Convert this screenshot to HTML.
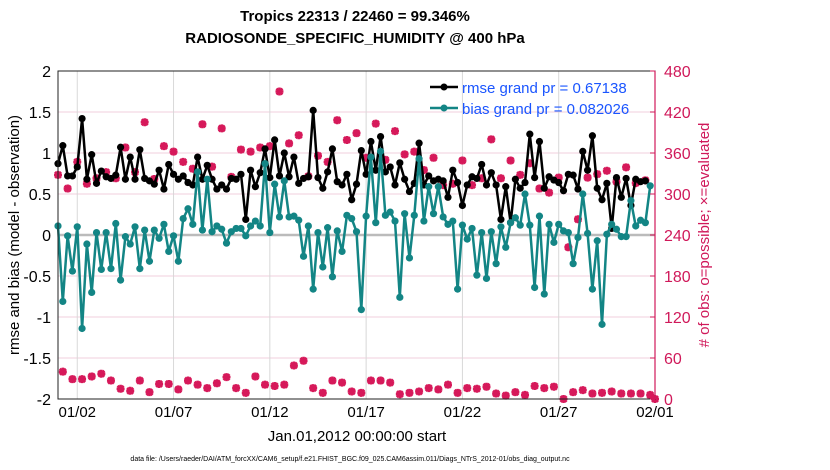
<!DOCTYPE html>
<html><head><meta charset="utf-8"><style>
body{margin:0;background:#fff;}
svg{display:block;font-family:"Liberation Sans",sans-serif;}
</style></head><body>
<svg id="chart" width="830" height="470" viewBox="0 0 830 470">
<text x="355" y="21" text-anchor="middle" font-size="15" font-weight="bold">Tropics 22313 / 22460 = 99.346%</text>
<text x="355" y="43" text-anchor="middle" font-size="15" font-weight="bold">RADIOSONDE_SPECIFIC_HUMIDITY @ 400 hPa</text>
<g id="grid"></g>
<g id="marks"></g>
<rect x="58" y="71" width="597" height="328" fill="none" stroke="#222" stroke-width="1"/>
<line x1="655" y1="71" x2="655" y2="399" stroke="#d0195a" stroke-width="1.2"/>
<g id="axes"></g>
<text transform="translate(19,235) rotate(-90)" text-anchor="middle" font-size="15">rmse and bias (model - observation)</text>
<text transform="translate(709,235) rotate(-90)" text-anchor="middle" font-size="15" fill="#d0195a"># of obs: o=possible; ×=evaluated</text>
<text x="357" y="441" text-anchor="middle" font-size="15">Jan.01,2012 00:00:00 start</text>
<text x="350" y="461" text-anchor="middle" font-size="7">data file: /Users/raeder/DAI/ATM_forcXX/CAM6_setup/f.e21.FHIST_BGC.f09_025.CAM6assim.011/Diags_NTrS_2012-01/obs_diag_output.nc</text>
<g>
<line x1="430" y1="87" x2="458" y2="87" stroke="#000" stroke-width="2.5"/>
<circle cx="444" cy="87" r="3.5" fill="#000"/>
<text x="462" y="93" font-size="15" fill="#1a55ff">rmse grand pr = 0.67138</text>
<line x1="430" y1="108" x2="458" y2="108" stroke="#138585" stroke-width="2.5"/>
<circle cx="444" cy="108" r="3.5" fill="#138585"/>
<text x="462" y="114" font-size="15" fill="#1a55ff">bias grand pr = 0.082026</text>
</g>
</svg>
<script>
const rmse = [0.87,1.09,0.72,0.72,0.83,1.42,0.68,0.98,0.63,0.78,0.71,0.69,0.73,1.07,0.68,0.95,0.68,1.04,0.69,0.66,0.62,0.79,0.56,0.86,0.74,0.68,0.72,0.64,0.61,0.95,0.68,0.85,0.68,0.56,0.61,0.56,0.69,0.68,0.74,0.19,0.79,
0.59,0.76,1.05,0.70,1.16,0.72,1.00,0.71,0.95,0.63,0.69,0.71,1.52,0.70,0.57,0.77,1.05,0.65,0.61,0.74,0.43,0.62,1.03,0.74,1.14,0.79,1.20,0.77,0.83,0.61,0.88,0.68,0.53,0.63,1.12,0.61,0.72,0.66,0.68,0.66,0.46,
0.79,0.64,0.36,0.61,0.71,0.69,0.86,0.61,0.76,0.61,0.19,0.59,0.15,0.68,0.57,0.64,1.23,0.70,1.14,0.57,0.71,0.67,0.64,0.54,0.74,0.73,0.56,1.02,0.79,1.21,0.57,0.43,0.63,0.08,0.70,0.46,0.69,0.36,0.68,0.65,0.66];
const bias = [0.11,-0.81,-0.01,-0.44,0.10,-1.14,-0.11,-0.70,0.03,-0.42,0.03,-0.41,0.14,-0.55,-0.02,-0.11,0.10,-0.41,0.06,-0.32,0.06,-0.04,0.13,-0.20,-0.01,-0.32,0.20,0.32,0.13,0.77,0.06,0.68,0.04,0.11,0.07,-0.10,0.04,0.08,0.08,-0.01,0.11,
0.17,0.11,0.87,0.03,0.62,0.22,0.66,0.22,0.23,0.18,-0.26,0.11,-0.66,0.03,-0.39,0.09,-0.51,0.05,-0.20,0.24,0.20,0.04,-0.91,0.23,0.95,0.15,1.02,0.24,0.28,0.17,-0.76,0.26,-0.28,0.24,0.93,0.17,0.59,0.26,0.59,0.22,0.13,0.17,-0.66,0.12,-0.05,
0.08,-0.49,0.03,-0.53,0.04,-0.35,0.10,-0.15,0.15,0.21,0.12,0.50,0.12,-0.64,0.23,-0.72,0.13,-0.09,0.13,0.05,0.03,-0.35,-0.03,0.50,0.02,-0.66,-0.07,-1.09,0.01,0.13,0.07,-0.02,-0.02,0.42,0.11,0.18,0.15,0.60];
const obsCount = [328,40,308,29,347,29,315,33,323,37,332,27,323,15,368,12,332,27,405,10,322,22,370,22,362,14,347,27,337,21,402,16,340,23,396,32,325,16,365,9,362,33,368,21,370,19,450,21,374,49,386,56,326,16,356,9,347,27,408,24,379,11,389,9,353,27,403,27,350,24,392,7,358,9,362,11,335,16,353,14,313,21,315,9,349,16,313,15,323,18,380,8,323,5,349,10,328,6,345,19,308,16,302,18,324,0,222,10,263,13,324,8,329,9,334,11,318,8,339,8,316,8,320,6,0];
const leftTicks = [-2,-1.5,-1,-0.5,0,0.5,1,1.5,2];
const rightTicks = [0,60,120,180,240,300,360,420,480];
const xTickDays = [1,6,11,16,21,26,31];
const xTickLabels = ["01/02","01/07","01/12","01/17","01/22","01/27","02/01"];
const stepDays = 0.25;

const NS="http://www.w3.org/2000/svg";
const X0=58,X1=655,Y0=399,Y1=71;
const xs = d => X0 + d/31*(X1-X0);
const yl = v => Y0 - (v+2)/4*(Y0-Y1);
const yr = v => Y0 - v/480*(Y0-Y1);
function mk(tag, attrs, parent){const e=document.createElementNS(NS,tag);for(const k in attrs)e.setAttribute(k,attrs[k]);parent.appendChild(e);return e;}
const grid=document.getElementById('grid'), marks=document.getElementById('marks'), axes=document.getElementById('axes');

leftTicks.forEach(t=>{
  const y=yl(t);
  if(t>-2&&t<2){const g=mk('line',{x1:X0,x2:X1,y1:y,y2:y,stroke:t===0?'#bbbbbb':'#f0cfdc','stroke-width':t===0?2.5:1},grid);
  
  }
  const tx=mk('text',{x:51,y:y+6,'text-anchor':'end','font-size':16},axes);tx.textContent=String(t);
  
  
});
rightTicks.forEach(t=>{
  const y=yr(t);
  const tk=mk('line',{x1:X1-5,x2:X1,y1:y,y2:y,stroke:'#d0195a'},axes);
  
  
  const tx=mk('text',{x:664,y:y+6,'font-size':16,fill:'#d0195a'},axes);tx.textContent=String(t);
  
  
});
xTickDays.forEach((d,i)=>{
  const x=xs(d);
  if(d<31){const g=mk('line',{x1:x,x2:x,y1:Y1,y2:Y0,stroke:'#d8d8d8','stroke-width':1},grid);
  
  }
  const tx=mk('text',{x:x,y:417,'text-anchor':'middle','font-size':15},axes);tx.textContent=xTickLabels[i];
  
  
});

// obs counts
obsCount.forEach((c,i)=>{
  const x=xs(i*stepDays), y=yr(c), s=4;
  const g=mk('path',{d:`M${x-s},${y}H${x+s}M${x},${y-s}V${y+s}M${x-3},${y-3}L${x+3},${y+3}M${x-3},${y+3}L${x+3},${y-3}`,stroke:'#d6195a','stroke-width':2.6,fill:'none'},marks);
  
  
});
function series(vals,color,name){
  const pts=vals.map((v,i)=>`${xs(i*stepDays).toFixed(1)},${yl(v).toFixed(1)}`).join(' ');
  const pl=mk('polyline',{points:pts,fill:'none',stroke:color,'stroke-width':2.5,'stroke-linejoin':'round'},marks);
  
  
  vals.forEach((v,i)=>{
    const c=mk('circle',{cx:xs(i*stepDays),cy:yl(v),r:3.6,fill:color},marks);
    
    
  });
}
series(rmse,'#000000','rmse');
series(bias,'#138585','bias');
</script>
</body></html>
